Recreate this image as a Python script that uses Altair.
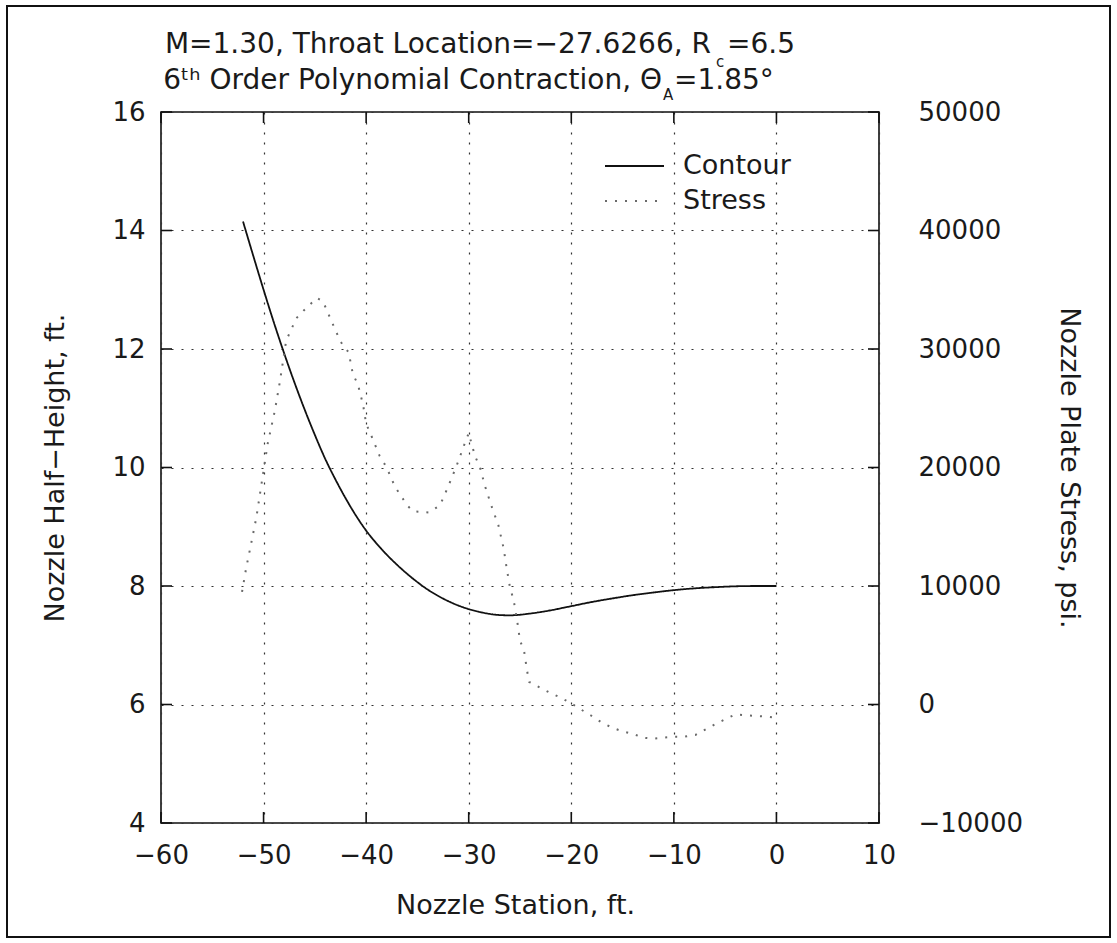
import altair as alt
import pandas as pd

# ---------------- data ----------------
contour_x = [-52, -51, -50, -49, -48, -47, -46, -45, -44, -43, -42, -41, -40, -39, -38, -37,
             -36, -35, -34, -33, -32, -31, -30, -29, -28, -27, -26, -25, -24, -22, -20, -18,
             -16, -14, -12, -10, -8, -6, -4, -2, 0]
contour_y = [14.15, 13.57, 13.0, 12.45, 11.93, 11.44, 10.98, 10.55, 10.15, 9.80, 9.48, 9.19,
             8.935, 8.72, 8.53, 8.36, 8.205, 8.065, 7.94, 7.835, 7.745, 7.67, 7.61, 7.565,
             7.53, 7.51, 7.505, 7.515, 7.535, 7.59, 7.66, 7.73, 7.79, 7.845, 7.89, 7.93,
             7.96, 7.98, 7.995, 8.0, 8.0]

stress_x = [-52.1, -51.7, -51.3, -50.7, -49.6, -48.9, -48.4, -47.8, -46.8, -45.8, -44.8, -44.2,
            -43.4, -42.9, -42.4, -41.7, -41.3, -40.8, -40.3, -40.0, -39.5, -38.7, -38.0, -37.2,
            -36.0, -35.4, -33.9, -32.8, -32.0, -31.2, -30.4, -30.0, -29.4, -28.9, -28.4, -27.8,
            -27.1, -26.6, -26.3, -26.0, -25.6, -25.3, -25.0, -24.6, -24.3, -24.1, -23.0, -22.1,
            -21.1, -20.1, -19.1, -18.0, -17.0, -16.0, -15.1, -13.9, -13.0, -12.0, -11.0, -10.0,
            -9.1, -7.9, -6.9, -6.0, -5.0, -4.0, -2.9, -1.9, -0.9, 0.0]
stress_y = [9500, 11500, 13200, 15800, 22000, 24800, 27300, 30700, 32600, 33500, 34300, 34000,
            32400, 31400, 30500, 29700, 27900, 27000, 25300, 23700, 22700, 21000, 20000, 18400,
            16800, 16300, 16200, 16800, 18400, 20100, 22000, 22900, 21000, 20000, 18400, 16800,
            15100, 13200, 11500, 10000, 8700, 7200, 5400, 4500, 2800, 1900, 1400, 1000,
            600, 150, -400, -970, -1540, -1960, -2240, -2510, -2800, -2890, -2800, -2720,
            -2720, -2570, -2090, -1670, -1250, -830, -910, -970, -1030, -1110]

series_names = ["Contour", "Stress"]
x_ticks = [-60, -50, -40, -30, -20, -10, 0, 10]
left_ticks = [4, 6, 8, 10, 12, 14, 16]
right_ticks = [-10000, 0, 10000, 20000, 30000, 40000, 50000]

title1_main = "M=1.30, Throat Location=\u221227.6266, R"
title1_sub = "c"
title1_end = "=6.5"
title2_main = "6\u1d57\u02b0 Order Polynomial Contraction, \u0398"
title2_sub = "A"
title2_end = "=1.85\u00b0"

x_title = "Nozzle Station, ft."
yl_title = "Nozzle Half\u2212Height, ft."
yr_title = "Nozzle Plate Stress, psi."

# ---------------- style ----------------
FONT = "DejaVu Sans"
INK = "#1a1a1a"
W, H = 718, 711
LBL = 26
TTL = 27
HEAD = 28
SUB = 15
DOT = [2, 8]

cdf = pd.DataFrame({"station": contour_x, "value": contour_y, "series": series_names[0]})
sdf = pd.DataFrame({"station": stress_x, "value": stress_y, "series": series_names[1]})

xscale = alt.Scale(domain=[x_ticks[0], x_ticks[-1]], nice=False, zero=False)
yl_scale = alt.Scale(domain=[left_ticks[0], left_ticks[-1]], nice=False, zero=False)
yr_scale = alt.Scale(domain=[right_ticks[0], right_ticks[-1]], nice=False, zero=False)

color_scale = alt.Scale(domain=series_names, range=["#111111", "#6a6a6a"])
dash_scale = alt.Scale(domain=series_names, range=[[1, 0], DOT])

legend = alt.Legend(
    title=None, orient="none", legendX=443, legendY=39, padding=0,
    symbolType="stroke", symbolSize=3481, symbolStrokeWidth=1.8,
    labelFont=FONT, labelFontSize=TTL, labelColor=INK, labelOffset=18,
    rowPadding=5, clipHeight=30,
)

xaxis = alt.Axis(
    values=x_ticks, title=x_title, grid=True, gridDash=DOT, gridColor="#333333",
    gridWidth=1.2, domain=False, ticks=False, tickSize=0, labelFont=FONT,
    labelFontSize=LBL, labelColor=INK, labelPadding=19, labelFlush=False,
    titleFont=FONT, titleFontSize=TTL, titleColor=INK, titleFontWeight="normal",
    titleX=354, titleY=82, titleAlign="center", titleBaseline="middle",
)
yl_axis = alt.Axis(
    orient="left", values=left_ticks, title=yl_title, grid=True, gridDash=DOT,
    gridColor="#333333", gridWidth=1.2, domain=False, ticks=False, tickSize=0,
    labelFont=FONT, labelFontSize=LBL, labelColor=INK, labelPadding=16,
    labelFlush=False, titleFont=FONT, titleFontSize=TTL, titleColor=INK,
    titleFontWeight="normal", titleAngle=270, titleX=-106, titleY=355.5,
    titleAlign="center", titleBaseline="middle",
)
yr_axis = alt.Axis(
    orient="right", values=right_ticks, format="d", title=yr_title, grid=False,
    domain=False, ticks=False, tickSize=0, labelFont=FONT, labelFontSize=LBL,
    labelColor=INK, labelPadding=39, labelAlign="left", labelFlush=False,
    titleFont=FONT, titleFontSize=TTL, titleColor=INK, titleFontWeight="normal",
    titleAngle=90, titleX=189, titleY=355.5, titleAlign="center",
    titleBaseline="middle",
)

X = alt.X("station:Q", scale=xscale, axis=xaxis)

contour = alt.Chart(cdf).mark_line(strokeWidth=1.8, interpolate="monotone").encode(
    x=X,
    y=alt.Y("value:Q", scale=yl_scale, axis=yl_axis),
    color=alt.Color("series:N", scale=color_scale, legend=legend),
    strokeDash=alt.StrokeDash("series:N", scale=dash_scale, legend=legend),
)

stress = alt.Chart(sdf).mark_line(strokeWidth=2, strokeCap="butt").encode(
    x=X,
    y=alt.Y("value:Q", scale=yr_scale, axis=yr_axis),
    color=alt.Color("series:N", scale=color_scale, legend=legend),
    strokeDash=alt.StrokeDash("series:N", scale=dash_scale, legend=legend),
)

# inward tick marks
ltick_df = pd.DataFrame({"station": [x_ticks[0]] * len(left_ticks), "v": left_ticks})
xtick_df = pd.DataFrame({"station": x_ticks})
tick_style = dict(color="#111111", strokeWidth=1.6)
lticks = alt.Chart(ltick_df).mark_rule(**tick_style).encode(
    y=alt.Y("v:Q", scale=yl_scale, axis=None), x=alt.value(0), x2=alt.value(11))
rticks = alt.Chart(ltick_df).mark_rule(**tick_style).encode(
    y=alt.Y("v:Q", scale=yl_scale, axis=None), x=alt.value(W - 11), x2=alt.value(W))
tticks = alt.Chart(xtick_df).mark_rule(**tick_style).encode(
    x=X, y=alt.value(0), y2=alt.value(11))
bticks = alt.Chart(xtick_df).mark_rule(**tick_style).encode(
    x=X, y=alt.value(H - 11), y2=alt.value(H))

one = pd.DataFrame({"k": [0]})


def label(text, x, y, size, align):
    return alt.Chart(one).mark_text(
        font=FONT, fontSize=size, color=INK, align=align, baseline="middle"
    ).encode(x=alt.value(x), y=alt.value(y), text=alt.value(text))


titles = [
    label(title1_main, 550, -67.5, HEAD, "right"),
    label(title1_sub, 555, -50, SUB, "left"),
    label(title1_end, 566, -67.5, HEAD, "left"),
    label(title2_main, 501, -31, HEAD, "right"),
    label(title2_sub, 502, -17, SUB, "left"),
    label(title2_end, 513, -31, HEAD, "left"),
]

frame = alt.Chart(one).mark_rect(fillOpacity=0, stroke="#111111", strokeWidth=2).encode(
    x=alt.value(-154), x2=alt.value(949), y=alt.value(-106), y2=alt.value(825))

chart = alt.layer(
    contour, stress, lticks, rticks, tticks, bticks, frame, *titles
).resolve_scale(y="independent").properties(
    width=W, height=H,
    autosize=alt.AutoSizeParams(type="none"),
    padding={"left": 161, "top": 112, "right": 238, "bottom": 120},
    background="white",
).configure_view(stroke="#111111", strokeWidth=1.6)

chart.save("out.html", embed_options={"renderer": "svg", "actions": False})
